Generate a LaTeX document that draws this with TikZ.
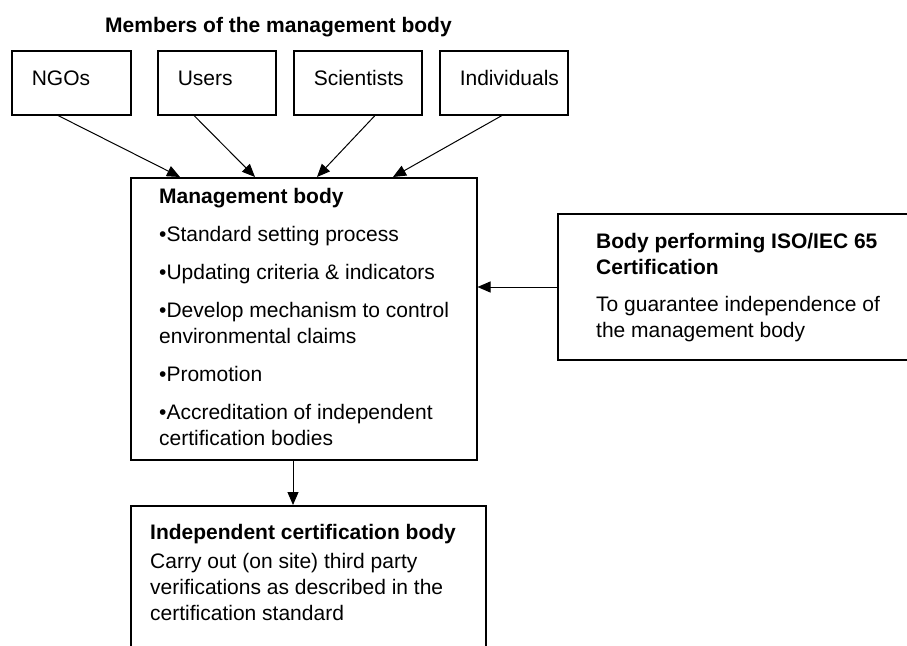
\documentclass[tikz,border=0pt]{standalone}
\usepackage{fontspec}
\setmainfont{Liberation Sans}
\usetikzlibrary{arrows.meta}
% invisible strut fixing the height of a block's first line
\newcommand\firstlinestrut{\rule{0pt}{20pt}}
\begin{document}
\begin{tikzpicture}[x=1pt,y=-1pt,
  every node/.style={font=\fontsize{21}{26}\selectfont},
  frame/.style={draw, line width=1.5pt, rectangle, anchor=north west, inner sep=0pt},
  member/.style={frame, minimum height=64pt, inner xsep=20pt, inner ysep=0pt,
                 align=left, text height=15pt, text depth=9pt},
  blurb/.style={anchor=north west, inner sep=0pt, align=left},
  feed/.style={line width=1pt, -{Triangle[length=13pt,width=11pt]}}]
\useasboundingbox (0,0) rectangle (907,645);
\clip (0,0) rectangle (907,645);

% heading above the member boxes
\node[anchor=base west, inner sep=0pt] (title) at (105,32) {\textbf{Members of the management body}};

% members
\node[member, text width=79pt] (ngo) at (11,50) {NGOs};
\node[member, text width=78pt] (users) at (157,50) {Users};
\node[member, text width=88pt] (sci) at (293,50) {Scientists};
\node[member, text width=88pt] (indiv) at (439,50) {Individuals};

% management body
\node[frame, minimum width=346pt, minimum height=282pt] (mgmt) at (130,177) {};
\node[blurb] (mgmttext) at (159,183) {\firstlinestrut\textbf{Management body}\\[12pt]
  •Standard setting process\\[12pt]
  •Updating criteria \& indicators\\[12pt]
  •Develop mechanism to control\\environmental claims\\[12pt]
  •Promotion\\[12pt]
  •Accreditation of independent\\certification bodies};

% certification of the management body
\node[frame, minimum width=400pt, minimum height=146pt] (iso) at (557,213) {};
\node[blurb] (isotext) at (596,228) {\firstlinestrut\textbf{Body performing ISO/IEC 65}\\\textbf{Certification}\\[11pt]
  To guarantee independence of\\the management body};

% independent certification body
\node[frame, minimum width=355pt, minimum height=200pt] (indep) at (130,505) {};
\node[blurb] (indeptext) at (150,519) {\firstlinestrut\textbf{Independent certification body}\\[3pt]
  Carry out (on site) third party\\verifications as described in the\\certification standard};

% connectors
\draw[feed] ([xshift=47pt]ngo.south west) -- ([xshift=50pt]mgmt.north west);
\draw[feed] ([xshift=37pt]users.south west) -- ([xshift=125pt]mgmt.north west);
\draw[feed] ([xshift=82pt]sci.south west) -- ([xshift=187pt]mgmt.north west);
\draw[feed] ([xshift=63pt]indiv.south west) -- ([xshift=263pt]mgmt.north west);

\coordinate (isoport) at ([yshift=-74pt]iso.north west);
\draw[feed] (isoport) -- (isoport -| mgmt.east);

\draw[feed] ([xshift=163pt]mgmt.south west) -- ([xshift=163pt]indep.north west);
\end{tikzpicture}
\end{document}
